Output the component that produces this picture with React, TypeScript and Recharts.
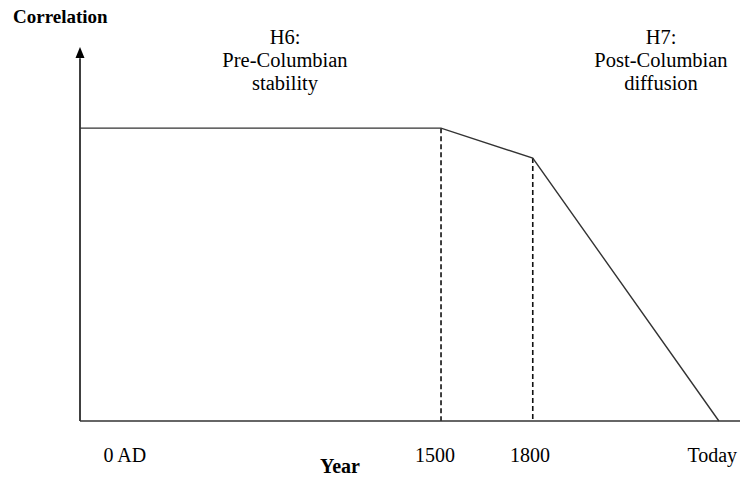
import React from 'react';
import {
  LineChart,
  Line,
  XAxis,
  YAxis,
  ReferenceLine,
  ReferenceDot,
} from 'recharts';

// schematic positions along the time axis (0 = y axis, 100 = right edge)
const positions = [0, 54.7, 68.6, 96.8];
const correlation = [78.3, 78.3, 70.3, 0];

const tickPositions = [6.8, 53.8, 68.2, 95.8];
const tickLabels = ['0 AD', '1500', '1800', 'Today'];

const data = positions.map((x, i) => ({ x, corr: correlation[i] }));

const FONT = 'Liberation Serif, DejaVu Serif, Times New Roman, serif';

const TimeTick = (props: any) => {
  const { x, y, payload } = props;
  const idx = tickPositions.indexOf(payload.value);
  return (
    <text x={x} y={y + 33} textAnchor="middle" style={{ fontFamily: FONT }} fontSize={20} fill="#000">
      {tickLabels[idx]}
    </text>
  );
};

const Arrow = (props: any) => {
  const { cx, cy } = props;
  return <path d={`M${cx},${cy} L${cx - 4.5},${cy + 11} L${cx + 4.5},${cy + 11} Z`} fill="#000" />;
};

const noteStyle: React.CSSProperties = {
  position: 'absolute',
  fontFamily: FONT,
  fontSize: 20.5,
  lineHeight: '23px',
  textAlign: 'center',
  color: '#000',
  width: 200,
};

const App = () => {
  return (
    <div style={{ position: 'absolute', left: 0, top: 0, width: 741, height: 479, background: '#fff' }}>
      <LineChart
        width={741}
        height={479}
        data={data}
        margin={{ top: 47, right: 1, bottom: 0, left: 80 }}
      >
        <XAxis
          dataKey="x"
          type="number"
          domain={[0, 100]}
          ticks={tickPositions}
          tick={<TimeTick />}
          tickLine={false}
          axisLine={{ stroke: '#333', strokeWidth: 1.5 }}
          height={58}
        />
        <YAxis hide type="number" domain={[0, 100]} />
        <ReferenceLine
          segment={[{ x: 0, y: 0 }, { x: 0, y: 97 }]}
          stroke="#000"
          strokeWidth={1.5}
        />
        <ReferenceDot x={0} y={100} shape={<Arrow />} />
        <ReferenceLine
          segment={[{ x: positions[1], y: correlation[1] }, { x: positions[1], y: 0 }]}
          stroke="#111"
          strokeWidth={1.6}
          strokeDasharray="5 3"
        />
        <ReferenceLine
          segment={[{ x: positions[2], y: correlation[2] }, { x: positions[2], y: 0 }]}
          stroke="#111"
          strokeWidth={1.6}
          strokeDasharray="5 3"
        />
        <Line
          type="linear"
          dataKey="corr"
          stroke="#333"
          strokeWidth={1.4}
          dot={false}
          isAnimationActive={false}
        />
      </LineChart>
      <div style={{ position: 'absolute', left: 13, top: 6, fontFamily: FONT, fontSize: 19, fontWeight: 'bold' }}>
        Correlation
      </div>
      <div style={{ position: 'absolute', left: 320, top: 455, fontFamily: FONT, fontSize: 20, fontWeight: 'bold' }}>
        Year
      </div>
      <div style={{ ...noteStyle, left: 185, top: 26 }}>
        H6:
        <br />
        Pre-Columbian
        <br />
        stability
      </div>
      <div style={{ ...noteStyle, left: 561, top: 26 }}>
        H7:
        <br />
        Post-Columbian
        <br />
        diffusion
      </div>
    </div>
  );
};

export default App;
